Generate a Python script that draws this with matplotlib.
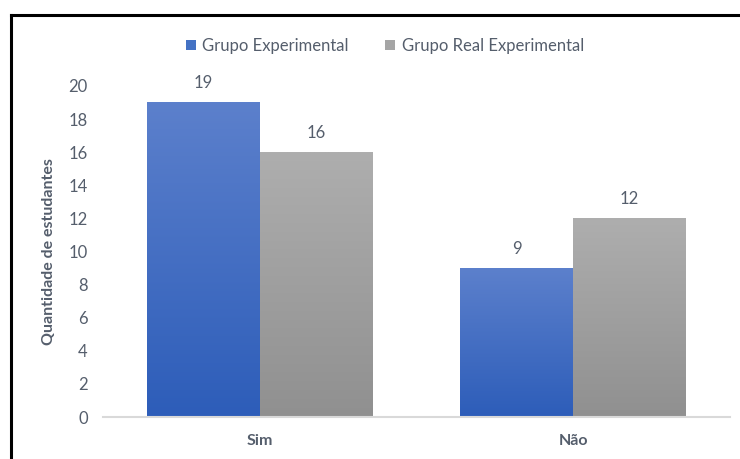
import matplotlib
matplotlib.use("Agg")
import matplotlib.pyplot as plt
import numpy as np
from matplotlib.colors import LinearSegmentedColormap
from matplotlib.patches import Patch
from matplotlib.lines import Line2D

categories = ["Sim", "Não"]
series_names = ["Grupo Experimental", "Grupo Real Experimental"]
grupo_experimental = [19, 9]
grupo_real = [16, 12]
yticks = [0, 2, 4, 6, 8, 10, 12, 14, 16, 18, 20]

plt.rcParams['font.family'] = ['Lato', 'DejaVu Sans']
txt = '#555e6c'

fig = plt.figure(figsize=(7.4, 4.59), dpi=100)
ax = fig.add_axes([103/740, 1-417/459, (730-103)/740, (417-86)/459])

x = np.arange(len(categories))
w = 0.36
grads = [("#5C80CC", "#2D5DB9"), ("#AEAEAE", "#909090")]
for i, vals in enumerate([grupo_experimental, grupo_real]):
    bars = ax.bar(x + (i - 0.5) * w, vals, width=w, color='none', edgecolor='none')
    cmap = LinearSegmentedColormap.from_list("g%d" % i, [grads[i][1], grads[i][0]])
    for b, v in zip(bars, vals):
        x0, wd, h = b.get_x(), b.get_width(), b.get_height()
        grad = np.linspace(0, 1, 256).reshape(-1, 1)
        ax.imshow(grad, cmap=cmap, origin='lower', aspect='auto',
                  extent=[x0, x0 + wd, 0, h], zorder=2)
        ax.annotate(str(v), (x0 + wd/2, h), xytext=(0, 8), textcoords='offset points',
                    ha='center', va='bottom', fontsize=12, color=txt, annotation_clip=False)

ax.set_xlim(-0.5, 1.5)
ax.set_ylim(0, 20)
ax.set_yticks(yticks)
ax.set_xticks(x)
ax.set_xticklabels(categories, fontsize=11.5, fontweight='bold', color=txt)
ax.tick_params(axis='y', length=0, labelsize=12, labelcolor=txt, pad=11)
ax.tick_params(axis='x', length=0, pad=12)
for s in ['top', 'right', 'left']:
    ax.spines[s].set_visible(False)
ax.spines['bottom'].set_color('#D9D9D9')
ax.spines['bottom'].set_linewidth(1.5)
ax.spines['bottom'].set_zorder(3)
ax.set_ylabel("Quantidade de estudantes", fontsize=11.5, fontweight='bold', color=txt)
ax.yaxis.set_label_coords((56 - 103) / 627, 0.5)

handles = [Patch(facecolor="#4472C4"), Patch(facecolor="#A5A5A5")]
fig.legend(handles, series_names, loc='center', bbox_to_anchor=(385/740, 1-46/459),
           ncol=2, frameon=False, handlelength=0.6, handleheight=0.6, handletextpad=0.4,
           columnspacing=2.2, fontsize=12, labelcolor=txt)

fig.add_artist(Line2D([11/740, 11/740], [0, 1-15/459], transform=fig.transFigure, color='black', lw=2.2))
fig.add_artist(Line2D([11/740, 1], [1-15/459, 1-15/459], transform=fig.transFigure, color='black', lw=2.2))

fig.savefig("out.png", dpi=100)
